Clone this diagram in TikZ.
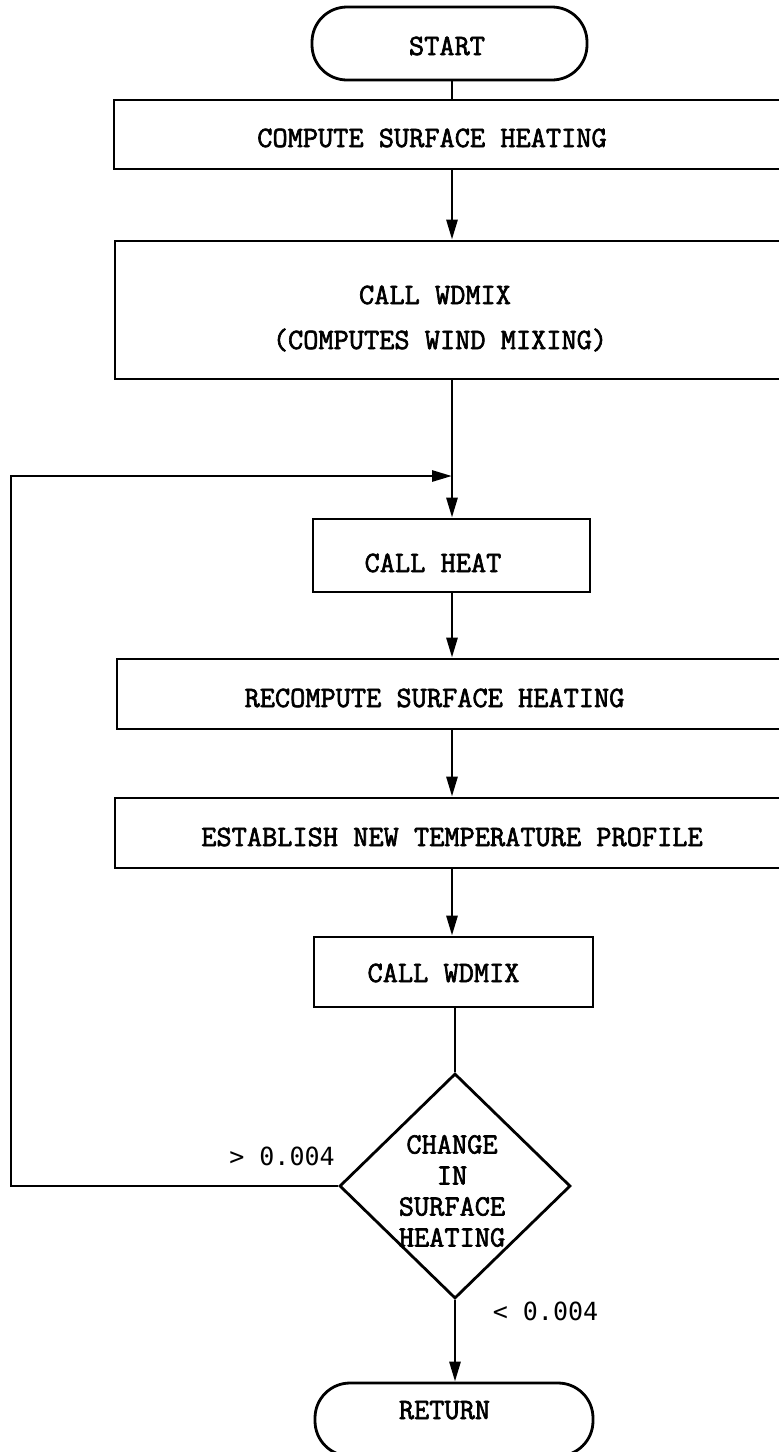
\documentclass[tikz,border=0pt]{standalone}
\usepackage{fontspec}
\setmonofont{Latin Modern Mono}[FakeBold=2.2]
\newfontfamily\lblfont{DejaVu Sans Mono}
\usetikzlibrary{arrows.meta,shapes.geometric}
\begin{document}
\begin{tikzpicture}[x=1pt,y=-1pt, line width=2.8pt,
  box/.style={draw, rectangle, inner sep=0pt},
  term/.style={draw, rectangle, rounded corners=35pt, inner sep=0pt},
  txt/.style={inner sep=0pt, anchor=base, font=\ttfamily\fontsize{29.5}{31}\selectfont},
  lbl/.style={inner sep=0pt, anchor=base, font=\lblfont\fontsize{25}{27}\selectfont},
  arr/.style={-{Triangle[length=20pt,width=11pt]}}]
\useasboundingbox (0,0) rectangle (779,1452);
% spine x
\coordinate (sp) at (452,0);
% shapes
\node[term, minimum width=275pt, minimum height=73pt] (start) at (449.5,43.5) {};
\node[box, minimum width=676pt, minimum height=69pt] (b1) at (452,134.5) {};
\node[box, minimum width=675pt, minimum height=138pt] (b2) at (452.5,310) {};
\node[box, minimum width=277pt, minimum height=73pt] (heat) at (451.5,555.5) {};
\node[box, minimum width=673pt, minimum height=70pt] (recomp) at (453.5,694) {};
\node[box, minimum width=675pt, minimum height=70pt] (estab) at (452.5,833) {};
\node[box, minimum width=279pt, minimum height=70pt] (wdmix) at (453.5,972) {};
\node[draw, diamond, minimum width=231pt, minimum height=225pt, inner sep=0pt] (dia) at (455,1186) {};
\node[term, minimum width=278pt, minimum height=73pt] (ret) at (454,1419.5) {};
% texts
\node[txt] (tstart) at (447,55) {START};
\node[txt] (t1) at (432,147) {COMPUTE SURFACE HEATING};
\node[txt] (t2a) at (435,304) {CALL WDMIX};
\node[txt] (t2b) at (440,349) {(COMPUTES WIND MIXING)};
\node[txt] (theat) at (433,572) {CALL HEAT};
\node[txt] (trec) at (434.5,707) {RECOMPUTE SURFACE HEATING};
\node[txt] (test) at (452,846) {ESTABLISH NEW TEMPERATURE PROFILE};
\node[txt] (twd) at (443.5,982) {CALL WDMIX};
\node[txt] (tret) at (444.5,1419) {RETURN};
\node[txt, anchor=center, align=center] (tdia) at (452,1191) {CHANGE\\IN\\SURFACE\\HEATING};
\node[lbl] (lgt) at (282,1165) {> 0.004};
\node[lbl] (llt) at (545.5,1320) {< 0.004};
% connectors
\coordinate (j) at (452,476);
\coordinate (loopL) at (11,476);
\draw (start.south -| sp) -- (b1.north -| sp);
\draw[arr] (b1.south -| sp) -- (b2.north -| sp);
\draw (b2.south -| sp) -- (j);
\draw[arr] (j) -- (heat.north -| sp);
\draw[arr] (heat.south -| sp) -- (recomp.north -| sp);
\draw[arr] (recomp.south -| sp) -- (estab.north -| sp);
\draw[arr] (estab.south -| sp) -- (wdmix.north -| sp);
\draw (wdmix.south -| dia.north) -- (dia.north);
\draw[arr] (dia.south) -- (ret.north -| dia.south);
\draw[arr] (dia.west) -| (loopL) -- (j);
\end{tikzpicture}
\end{document}
